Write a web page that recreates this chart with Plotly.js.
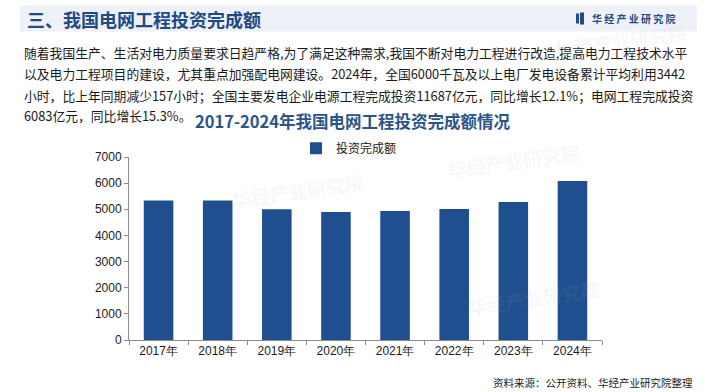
<!DOCTYPE html>
<html>
<head>
<meta charset="utf-8">
<script src="https://cdn.plot.ly/plotly-3.0.1.min.js"></script>
<style>
html,body{margin:0;padding:0;background:#fff;}
#chart{width:705px;height:392px;}
</style>
</head>
<body>
<div id="chart"></div>
<script>
const categories = ["2017年","2018年","2019年","2020年","2021年","2022年","2023年","2024年"];
const investment = [5340, 5340, 5000, 4896, 4930, 5012, 5275, 6083];
const seriesName = "投资完成额";
const yTicks = [0,1000,2000,3000,4000,5000,6000,7000];

const paragraphLines = [
  "随着我国生产、生活对电力质量要求日趋严格,为了满足这种需求,我国不断对电力工程进行改造,提高电力工程技术水平",
  "以及电力工程项目的建设，尤其重点加强配电网建设。2024年，全国6000千瓦及以上电厂发电设备累计平均利用3442",
  "小时，比上年同期减少157小时；全国主要发电企业电源工程完成投资11687亿元，同比增长12.1%；电网工程完成投资",
  "6083亿元，同比增长15.3%。"
];

const CJK = '"Noto Sans CJK SC", "Microsoft YaHei", sans-serif';
const LAT = '"Liberation Sans", Arial, sans-serif';

function px2paperX(px){return (px-129)/473;}
function px2paperY(py){return (340-py)/183.3;}

const lineYs = [52,73,95,115];
const anns = [];
anns.push({xref:'paper',yref:'paper',x:px2paperX(25),y:px2paperY(18),text:'<b>三、我国电网工程投资完成额</b>',showarrow:false,xanchor:'left',yanchor:'middle',
  font:{family:CJK,size:18,color:'#1f4a85'}});
anns.push({xref:'paper',yref:'paper',x:px2paperX(590),y:px2paperY(18),text:'<b>华 经 产 业 研 究 院</b>',showarrow:false,xanchor:'left',yanchor:'middle',
  font:{family:CJK,size:10,color:'#1f4a85'}});
paragraphLines.forEach((t,i)=>anns.push({xref:'paper',yref:'paper',x:px2paperX(22),y:px2paperY(lineYs[i]),text:t,showarrow:false,xanchor:'left',yanchor:'middle',
  font:{family:CJK,size:12.8,color:'#1a1a1a'}}));
anns.push({xref:'paper',yref:'paper',x:px2paperX(352),y:px2paperY(121),text:'<b>2017-2024年我国电网工程投资完成额情况</b>',showarrow:false,xanchor:'center',yanchor:'middle',
  font:{family:CJK,size:16.5,color:'#2b5589'}});
anns.push({xref:'paper',yref:'paper',x:px2paperX(695),y:px2paperY(383),text:'资料来源：公开资料、华经产业研究院整理',showarrow:false,xanchor:'right',yanchor:'middle',
  font:{family:CJK,size:10.5,color:'#1a1a1a'}});
// faint watermarks
const wm = [[297,190],[513,160],[533,297],[620,40]];
wm.forEach(p=>anns.push({xref:'paper',yref:'paper',x:px2paperX(p[0]),y:px2paperY(p[1]),text:'<b>华经产业研究院</b>',showarrow:false,xanchor:'center',yanchor:'middle',textangle:-8,
  font:{family:CJK,size:19,color:'rgba(170,180,200,0.11)'}}));

const shapes = [
  {type:'rect',xref:'paper',yref:'paper',x0:px2paperX(20),x1:px2paperX(697),y0:px2paperY(5),y1:px2paperY(31),fillcolor:'#eef2f8',line:{width:0},layer:'below'},
  {type:'rect',xref:'paper',yref:'paper',x0:px2paperX(576),x1:px2paperX(579),y0:px2paperY(13),y1:px2paperY(23),fillcolor:'#1f4a85',line:{width:0}},
  {type:'rect',xref:'paper',yref:'paper',x0:px2paperX(580),x1:px2paperX(584),y0:px2paperY(12),y1:px2paperY(24),fillcolor:'#1f4a85',line:{width:0}}
];

const trace = {
  type:'bar', x:categories, y:investment, name:seriesName,
  marker:{color:'#1f4f8e'}, showlegend:true, hoverinfo:'x+y'
};

const layout = {
  width:705, height:392,
  margin:{l:129,r:103,t:157,b:52},
  paper_bgcolor:'#ffffff', plot_bgcolor:'rgba(0,0,0,0)',
  bargap:0.5,
  showlegend:true,
  legend:{orientation:'h',x:px2paperX(296),y:px2paperY(148),xanchor:'left',yanchor:'middle',
    font:{family:CJK,size:12,color:'#1a1a1a'},bgcolor:'rgba(0,0,0,0)',itemwidth:30},
  xaxis:{type:'category',showline:true,linecolor:'#8c8c8c',linewidth:1,ticks:'outside',tickson:'boundaries',
    ticklen:4,tickcolor:'#8c8c8c',showgrid:false,zeroline:false,
    tickfont:{family:LAT,size:12,color:'#1a1a1a'},fixedrange:true},
  yaxis:{range:[0,7000],tickvals:yTicks,showline:true,linecolor:'#8c8c8c',linewidth:1,ticks:'outside',ticklen:4,
    tickcolor:'#8c8c8c',showgrid:false,zeroline:false,tickfont:{family:LAT,size:12,color:'#1a1a1a'},fixedrange:true},
  annotations:anns,
  shapes:shapes,
  font:{family:CJK}
};

Plotly.newPlot('chart',[trace],layout,{displayModeBar:false,staticPlot:true});
</script>
</body>
</html>
